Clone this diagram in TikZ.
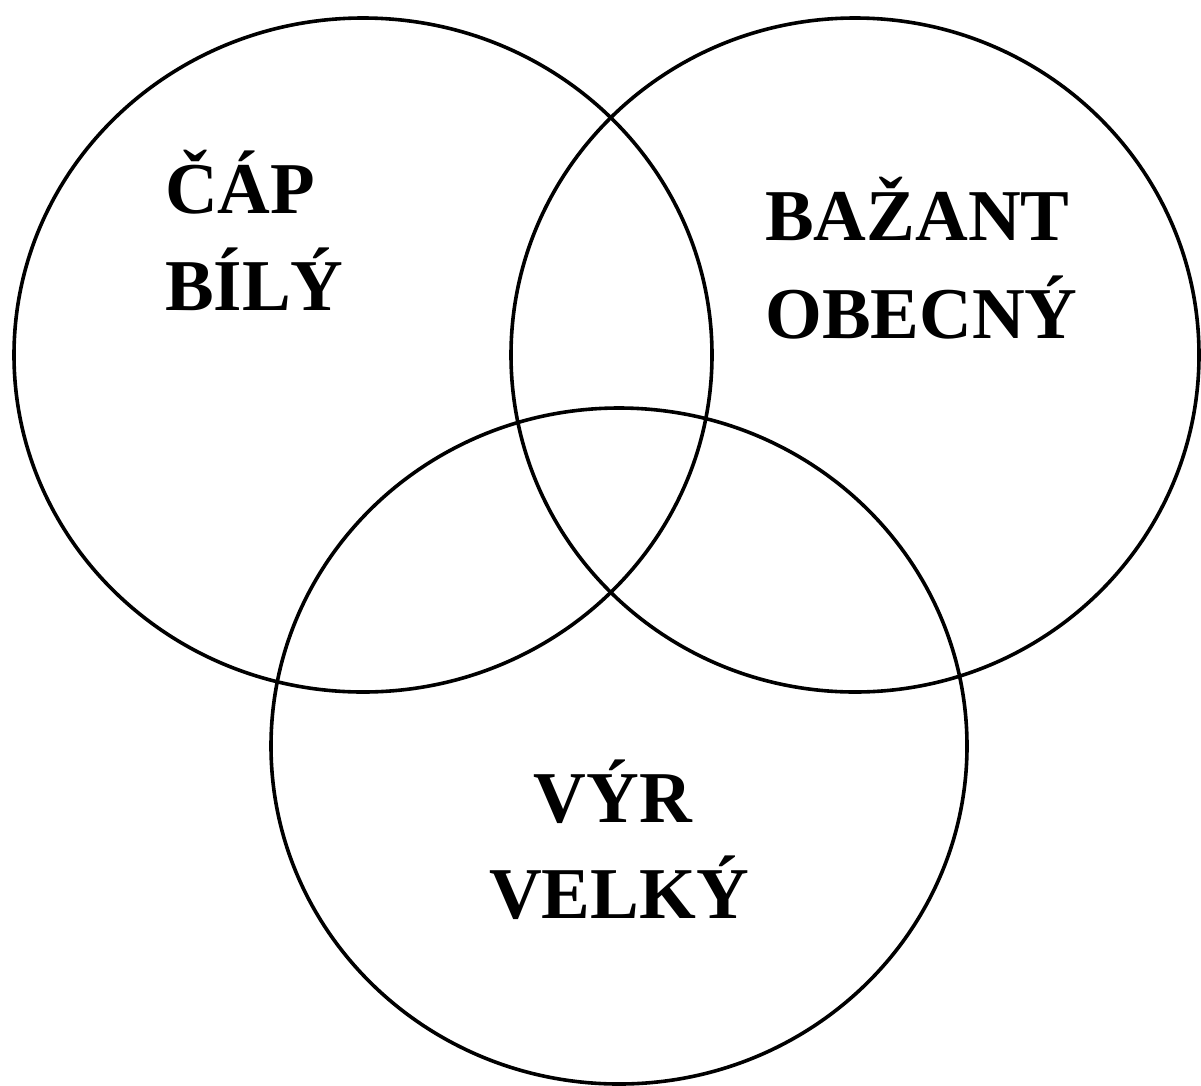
\documentclass[tikz,border=0pt]{standalone}
\usepackage{fontspec}
\setmainfont{Liberation Serif}
\begin{document}
\begin{tikzpicture}[x=1pt, y=-1pt,
  set/.style={draw=black, line width=3.6pt},
  birdname/.style={font=\fontsize{73}{98}\selectfont\bfseries, inner sep=0pt}]

\useasboundingbox (0,0) rectangle (1201,1085);

%--- Mnoziny ---
\draw[set] (363,355) ellipse [x radius=349, y radius=337];
\draw[set] (855,355) ellipse [x radius=344, y radius=337];
\draw[set] (619,746) ellipse [x radius=348, y radius=338];

%--- Popisky ---
\node[birdname, anchor=base west] (cap1) at (165,213) {ČÁP};
\node[birdname, anchor=base west] (cap2) at (165,310) {BÍLÝ};

\node[birdname, anchor=base west] (baz1) at (765,240) {BAŽANT};
\node[birdname, anchor=base west] (baz2) at (765,338) {OBECNÝ};

\node[birdname, anchor=base] (vyr1) at (613,822) {VÝR};
\node[birdname, anchor=base] (vyr2) at (619,918) {VELKÝ};

\end{tikzpicture}
\end{document}
